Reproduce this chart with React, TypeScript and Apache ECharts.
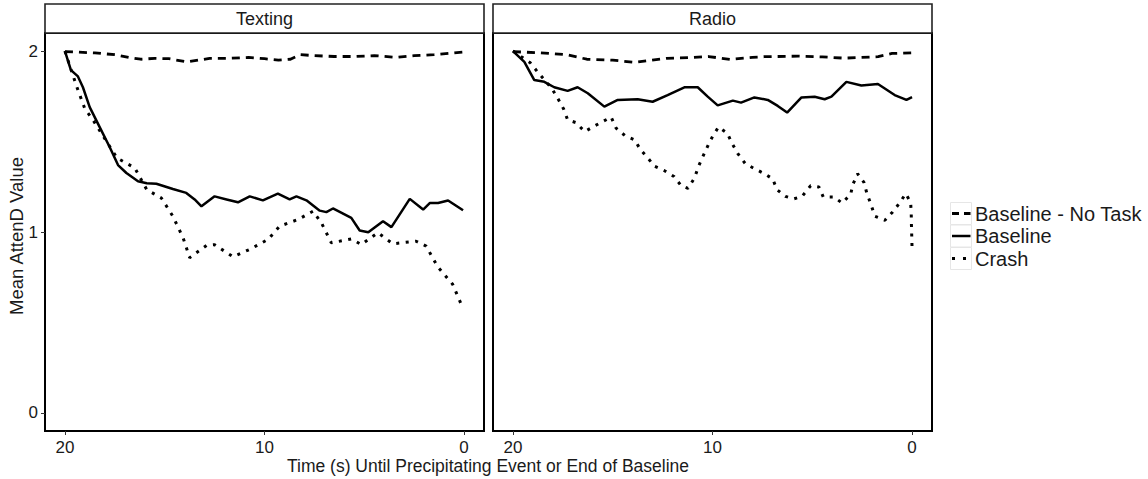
import React, { useEffect, useRef } from "react";
import * as echarts from "echarts";

// ---- data (time in seconds until event, mean AttenD value) ----
const panels = ["Texting", "Radio"];
const seriesNames = ["Baseline - No Task", "Baseline", "Crash"];
const xTicks = [0, 10, 20];
const yTicks = [0, 1, 2];

const textingNoTask = [
  [20, 1.997], [18.5, 1.99], [17.5, 1.98], [16.8, 1.965], [16.2, 1.955], [15.5, 1.96], [14.8, 1.958],
  [13.9, 1.94], [13.3, 1.95], [12.75, 1.96], [11.8, 1.96], [10.8, 1.965], [10, 1.958], [9.3, 1.95],
  [8.7, 1.955], [8.2, 1.98], [7.5, 1.975], [6.5, 1.97], [5.5, 1.97], [4.5, 1.975], [3.4, 1.965],
  [2.5, 1.975], [1.5, 1.98], [0.5, 1.99], [0, 1.995],
];
const textingBaseline = [
  [20, 2.0], [19.8, 1.93], [19.7, 1.895], [19.35, 1.86], [19.1, 1.8], [18.76, 1.69], [18.26, 1.58],
  [17.76, 1.47], [17.34, 1.37], [16.92, 1.326], [16.34, 1.28], [15.9, 1.27], [15.42, 1.267],
  [14.59, 1.238], [13.92, 1.216], [13.5, 1.18], [13.16, 1.142], [12.5, 1.197], [11.9, 1.18],
  [11.33, 1.164], [10.74, 1.197], [10.08, 1.175], [9.33, 1.212], [8.74, 1.18], [8.4, 1.197],
  [7.9, 1.175], [7.23, 1.118], [6.9, 1.11], [6.57, 1.13], [5.65, 1.078], [5.23, 1.008], [4.8, 0.999],
  [4.06, 1.06], [3.64, 1.027], [2.72, 1.183], [2.05, 1.124], [1.72, 1.16], [1.3, 1.16], [0.8, 1.174],
  [0.05, 1.12],
];
const textingCrash = [
  [20, 2.0], [19.43, 1.81], [19.0, 1.68], [18.6, 1.62], [17.4, 1.41], [16.5, 1.354], [15.9, 1.234],
  [15.17, 1.188], [14.59, 1.087], [14.08, 0.968], [13.75, 0.858], [12.9, 0.926], [12.5, 0.93],
  [11.58, 0.863], [10.74, 0.904], [9.82, 0.959], [9.24, 1.032], [8.32, 1.069], [7.57, 1.115],
  [7.15, 1.051], [6.65, 0.94], [5.65, 0.962], [5.15, 0.931], [4.32, 0.996], [3.57, 0.935],
  [2.4, 0.949], [1.9, 0.922], [1.32, 0.808], [0.57, 0.711], [0.1, 0.59],
];

const radioNoTask = [
  [20, 1.997], [18.6, 1.99], [17.3, 1.98], [16.3, 1.955], [15, 1.95], [13.9, 1.938], [12.3, 1.96],
  [11, 1.965], [10.2, 1.97], [9.1, 1.954], [8, 1.965], [7.4, 1.969], [5.7, 1.972], [4.5, 1.968],
  [3.4, 1.961], [1.7, 1.969], [1.0, 1.987], [0, 1.99],
];
const radioBaseline = [
  [20, 2.0], [19.43, 1.94], [18.93, 1.84], [18.43, 1.83], [17.93, 1.8], [17.26, 1.78], [16.76, 1.8],
  [16.25, 1.767], [15.42, 1.693], [14.75, 1.73], [13.75, 1.734], [13.0, 1.72], [12.25, 1.757],
  [11.41, 1.8], [10.74, 1.8], [10.24, 1.748], [9.74, 1.7], [8.98, 1.726], [8.57, 1.715], [7.9, 1.744],
  [7.23, 1.73], [6.73, 1.697], [6.26, 1.66], [5.54, 1.744], [4.88, 1.748], [4.38, 1.734],
  [4.04, 1.748], [3.29, 1.83], [2.54, 1.81], [1.71, 1.818], [0.87, 1.757], [0.28, 1.73], [0, 1.745],
];
const radioCrash = [
  [20, 2.0], [19.13, 1.935], [18.73, 1.88], [18.06, 1.795], [17.76, 1.74], [17.46, 1.68],
  [17.26, 1.62], [16.85, 1.605], [16.4, 1.555], [15.9, 1.587], [15.08, 1.635], [14.83, 1.574],
  [14.38, 1.532], [13.91, 1.51], [13.61, 1.455], [13.24, 1.409], [12.9, 1.363], [12.43, 1.34],
  [11.93, 1.307], [11.57, 1.256], [11.23, 1.241], [10.9, 1.299], [10.7, 1.363], [10.48, 1.418],
  [10.23, 1.477], [9.98, 1.532], [9.7, 1.58], [9.26, 1.546], [9.01, 1.488], [8.73, 1.433],
  [8.35, 1.377], [7.86, 1.348], [7.39, 1.322], [6.98, 1.293], [6.77, 1.234], [6.35, 1.197],
  [5.93, 1.183], [5.51, 1.197], [5.08, 1.256], [4.67, 1.249], [4.45, 1.194], [3.92, 1.194],
  [3.5, 1.16], [3.08, 1.208], [2.95, 1.267], [2.73, 1.322], [2.41, 1.274], [2.27, 1.216],
  [2.06, 1.152], [1.86, 1.087], [1.36, 1.065], [0.97, 1.111], [0.6, 1.164], [0.32, 1.212],
  [0.07, 1.164], [0.04, 1.1], [0.03, 1.036], [0.015, 0.977], [0, 0.913],
];

const panelData = [
  [textingNoTask, textingBaseline, textingCrash],
  [radioNoTask, radioBaseline, radioCrash],
];

const FONT = "'Liberation Sans', Arial, sans-serif";
const TXT = "#1a1a1a";

const lineStyles = [
  { type: [8, 6] as any, width: 2.8, cap: "butt" },
  { type: "solid", width: 2.5, cap: "butt" },
  { type: [3, 6.5] as any, width: 3, cap: "butt" },
];
const legendDash = [[7, 5], null, [3, 8]];

const grids = [
  { left: 45, top: 33, width: 439, height: 398 },
  { left: 493, top: 33, width: 439, height: 398 },
];

export default function App() {
  const ref = useRef<HTMLDivElement>(null);
  useEffect(() => {
    if (!ref.current) return;
    const chart = echarts.init(ref.current, null, { renderer: "svg" });

    const series: any[] = [];
    panelData.forEach((group, p) => {
      group.forEach((data, s) => {
        series.push({
          name: seriesNames[s],
          type: "line",
          xAxisIndex: p,
          yAxisIndex: p,
          data,
          showSymbol: false,
          symbol: "none",
          smooth: false,
          lineStyle: { color: "#000", ...lineStyles[s] },
          z: 3,
        });
      });
    });

    const graphic: any[] = [];
    grids.forEach((g, p) => {
      graphic.push({
        type: "rect",
        shape: { x: g.left, y: 4, width: g.width, height: 29 },
        style: { fill: "#fff", stroke: "#222", lineWidth: 1.6 },
        silent: true,
      });
      graphic.push({
        type: "text",
        x: g.left + g.width / 2,
        y: 19,
        style: {
          text: panels[p],
          fontFamily: FONT,
          fontSize: 18,
          fill: TXT,
          textAlign: "center",
          textVerticalAlign: "middle",
        },
      });
    });
    graphic.push({
      type: "text",
      x: 488,
      y: 466,
      style: {
        text: "Time (s) Until Precipitating Event or End of Baseline",
        fontFamily: FONT,
        fontSize: 17.5,
        fill: TXT,
        textAlign: "center",
        textVerticalAlign: "middle",
      },
    });
    graphic.push({
      type: "text",
      x: 16,
      y: 236,
      rotation: Math.PI / 2,
      style: {
        text: "Mean AttenD Value",
        fontFamily: FONT,
        fontSize: 18.5,
        fill: TXT,
        textAlign: "center",
        textVerticalAlign: "middle",
      },
    });
    seriesNames.forEach((name, i) => {
      const cy = 213.5 + i * 22.5;
      graphic.push({
        type: "rect",
        shape: { x: 950.5, y: cy - 11, width: 21, height: 22 },
        style: { fill: "#fff", stroke: "#e6e6e6", lineWidth: 1 },
      });
      graphic.push({
        type: "line",
        shape: { x1: 952, y1: cy, x2: 970.5, y2: cy },
        style: {
          stroke: "#000",
          lineWidth: lineStyles[i].width,
          lineDash: legendDash[i] || undefined,
        },
      });
      graphic.push({
        type: "text",
        x: 975,
        y: cy,
        style: {
          text: name,
          fontFamily: FONT,
          fontSize: 20,
          fill: TXT,
          textAlign: "left",
          textVerticalAlign: "middle",
        },
      });
    });

    chart.setOption({
      animation: false,
      backgroundColor: "#fff",
      grid: grids.map((g) => ({
        ...g,
        show: true,
        borderColor: "#000",
        borderWidth: 2,
        backgroundColor: "transparent",
        containLabel: false,
      })),
      xAxis: grids.map((_, p) => ({
        type: "value",
        gridIndex: p,
        inverse: true,
        min: -1,
        max: 21,
        splitLine: { show: false },
        axisLine: { show: false, onZero: false },
        axisTick: { show: true, length: 4, customValues: xTicks, lineStyle: { color: "#333", width: 1 } },
        axisLabel: {
          customValues: xTicks,
          fontFamily: FONT,
          fontSize: 17,
          color: TXT,
          margin: 8,
        },
      })),
      yAxis: grids.map((_, p) => ({
        type: "value",
        gridIndex: p,
        min: -0.1,
        max: 2.1,
        splitLine: { show: false },
        axisLine: { show: false, onZero: false },
        axisTick: { show: p === 0, length: 4, customValues: yTicks, lineStyle: { color: "#333", width: 1 } },
        axisLabel: {
          show: p === 0,
          customValues: yTicks,
          fontFamily: FONT,
          fontSize: 17,
          color: TXT,
          margin: 7,
        },
      })),
      series,
      graphic,
    });
    return () => chart.dispose();
  }, []);
  return (
    <div
      ref={ref}
      style={{ position: "fixed", left: 0, top: 0, width: 1148, height: 479, background: "#fff" }}
    />
  );
}
